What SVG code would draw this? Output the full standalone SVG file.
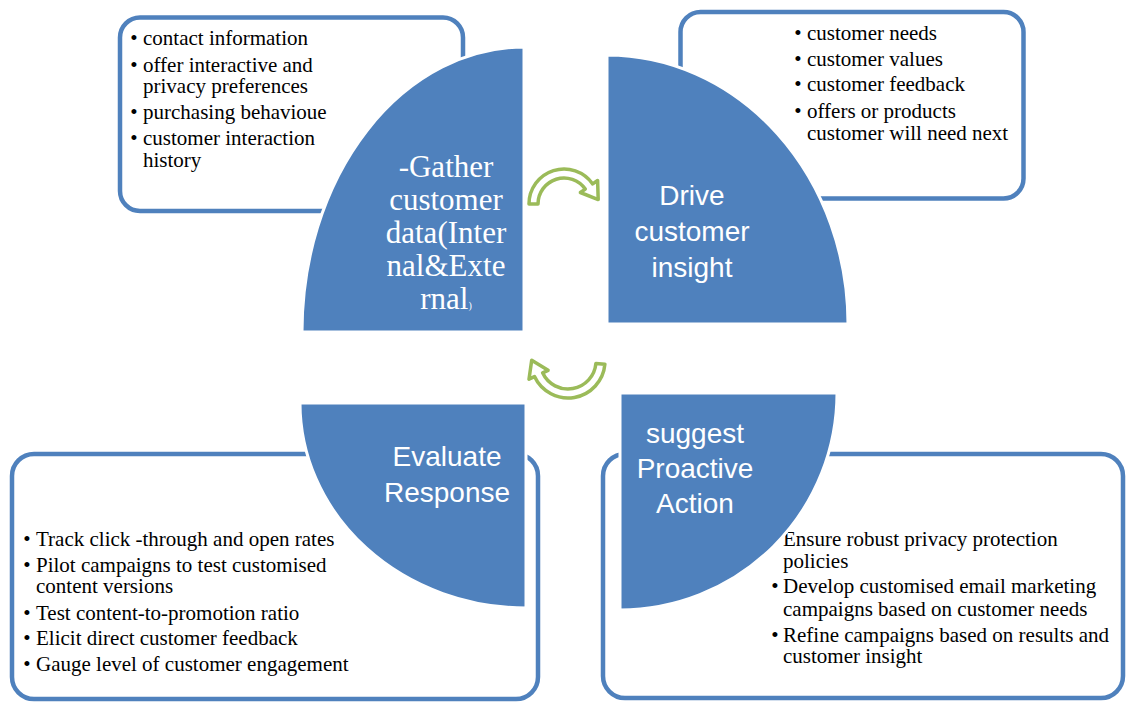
<svg xmlns="http://www.w3.org/2000/svg" width="1127" height="702" viewBox="0 0 1127 702">
<style>
.box{fill:#fff;stroke:#4F81BD;stroke-width:4.5}
.q{fill:#4F81BD;stroke:#fff;stroke-width:3}
.bt{font-family:"Liberation Serif","Times New Roman",serif;font-size:21px;fill:#000}
.bul{font-family:"Liberation Serif","Times New Roman",serif;font-size:21px;fill:#000;text-anchor:middle}
.ls{font-family:"Liberation Sans",Arial,sans-serif;font-size:28px;fill:#fff;text-anchor:middle}
.lt{font-family:"Liberation Serif","Times New Roman",serif;font-size:31px;fill:#fff;text-anchor:middle}
.arr{fill:#fff;stroke:#9BBB59;stroke-width:3.5;stroke-linejoin:round}
</style>
<rect width="1127" height="702" fill="#fff"/>

<g id="gather">
<rect class="box" x="120" y="17.5" width="343" height="193.5" rx="20"/>
<g class="bul"><text x="134" y="45">•</text><text x="134" y="71.5">•</text><text x="134" y="119">•</text><text x="134" y="145">•</text></g>
<g class="bt">
<text x="143" y="45">contact information</text>
<text x="143" y="71.5">offer interactive and</text>
<text x="143" y="93">privacy preferences</text>
<text x="143" y="119">purchasing behavioue</text>
<text x="143" y="145">customer interaction</text>
<text x="143" y="167">history</text>
</g>
<path class="q" d="M524 332 L302 332 A222 285 0 0 1 524 47 Z"/>
<g class="lt">
<text x="446" y="177">-Gather</text>
<text x="446" y="210">customer</text>
<text x="446" y="243">data(Inter</text>
<text x="446" y="276">nal&amp;Exte</text>
<text x="446" y="309">rnal<tspan font-size="10">)</tspan></text>
</g>
</g>

<g id="insight">
<rect class="box" x="680.5" y="12" width="343" height="186.5" rx="20"/>
<g class="bul"><text x="798" y="40">•</text><text x="798" y="65.5">•</text><text x="798" y="91.4">•</text><text x="798" y="117.6">•</text></g>
<g class="bt">
<text x="807" y="40">customer needs</text>
<text x="807" y="65.5">customer values</text>
<text x="807" y="91.4">customer feedback</text>
<text x="807" y="117.6">offers or products</text>
<text x="807" y="139.5">customer will need next</text>
</g>
<path class="q" d="M607 324 L607 55 A241 269 0 0 1 848 324 Z"/>
<g class="ls">
<text x="692" y="205">Drive</text>
<text x="692" y="241">customer</text>
<text x="692" y="277">insight</text>
</g>
</g>

<g id="evaluate">
<rect class="box" x="12" y="454" width="526" height="245" rx="22"/>
<g class="bul"><text x="27" y="546">•</text><text x="27" y="571.7">•</text><text x="27" y="620">•</text><text x="27" y="645">•</text><text x="27" y="671">•</text></g>
<g class="bt">
<text x="36" y="546">Track click -through and open rates</text>
<text x="36" y="571.7">Pilot campaigns to test customised</text>
<text x="36" y="593">content versions</text>
<text x="36" y="620">Test content-to-promotion ratio</text>
<text x="36" y="645">Elicit direct customer feedback</text>
<text x="36" y="671">Gauge level of customer engagement</text>
</g>
<path class="q" d="M526 403 L526 608 A226 205 0 0 1 300 403 Z"/>
<g class="ls">
<text x="447" y="466">Evaluate</text>
<text x="447" y="502">Response</text>
</g>
</g>

<g id="action">
<rect class="box" x="603" y="454" width="520" height="244" rx="22"/>
<g class="bul"><text x="775" y="545.7">•</text><text x="775" y="593">•</text><text x="775" y="642">•</text></g>
<g class="bt">
<text x="783" y="545.7">Ensure robust privacy protection</text>
<text x="783" y="568">policies</text>
<text x="783" y="593">Develop customised email marketing</text>
<text x="783" y="616">campaigns based on customer needs</text>
<text x="783" y="642">Refine campaigns based on results and</text>
<text x="783" y="663">customer insight</text>
</g>
<path class="q" d="M620 393 L837 393 A217 217 0 0 1 620 610 Z"/>
<g class="ls">
<text x="695" y="443">suggest</text>
<text x="695" y="478">Proactive</text>
<text x="695" y="513">Action</text>
</g>
</g>

<g id="connectors">
<path class="arr" d="M529,204 A35,35 0 0 1 592.7,183.9 L597.6,180.5 L598.2,199.6 L580.4,192.5 L585.3,189.1 A26,26 0 0 0 538,204 Z"/>
<path class="arr" d="M604.9,364.2 A37,37 0 0 1 534.5,376.6 L529.0,379.2 L531.7,360.2 L548.1,370.3 L542.6,372.8 A28,28 0 0 0 595.9,363.4 Z"/>
</g>
</svg>
